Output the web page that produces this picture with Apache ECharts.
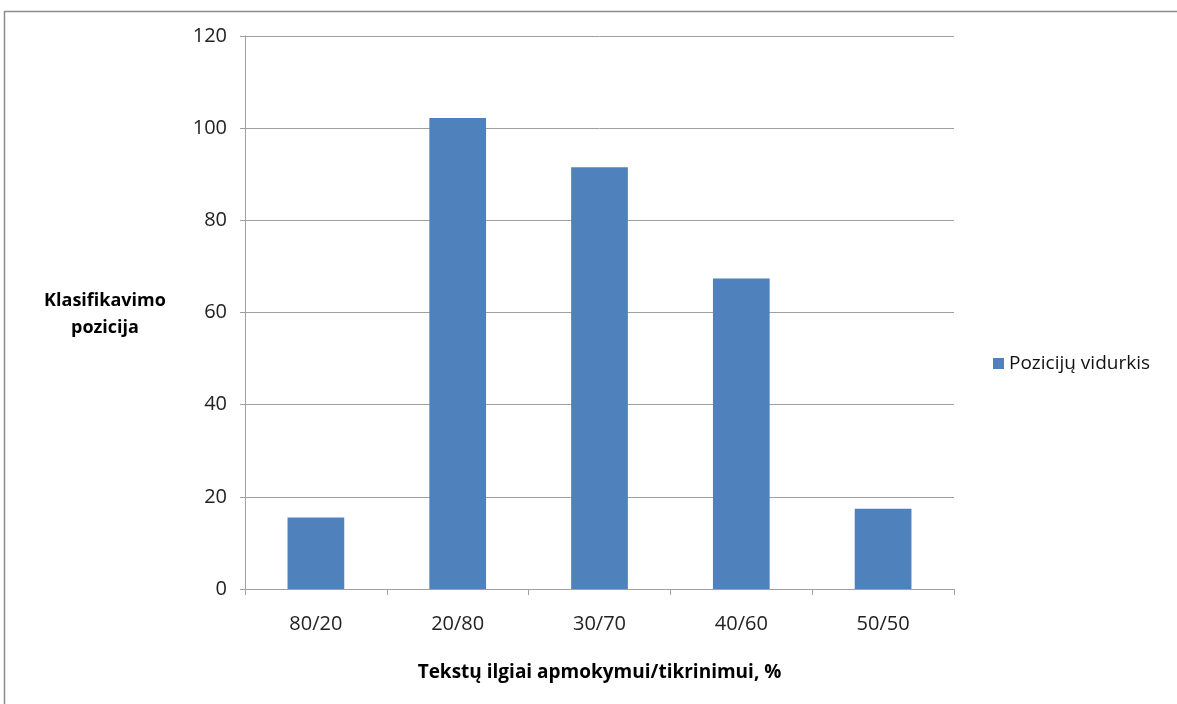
<!DOCTYPE html>
<html>
<head>
<meta charset="utf-8">
<script src="https://cdn.jsdelivr.net/npm/echarts@6/dist/echarts.min.js"></script>
<style>
  html, body { margin: 0; padding: 0; background: #fff; }
  #chart { width: 1177px; height: 704px; }
</style>
</head>
<body>
<div id="chart"></div>
<script>
const categories = ["80/20", "20/80", "30/70", "40/60", "50/50"];
const averages = [15.5, 102.2, 91.5, 67.4, 17.4];
const seriesName = "Pozicijų vidurkis";
const xTitle = "Tekstų ilgiai apmokymui/tikrinimui, %";
const yTitle = "Klasifikavimo\npozicija";

const font = "'Open Sans', 'DejaVu Sans', sans-serif";
const chart = echarts.init(document.getElementById("chart"));
chart.setOption({
  animation: false,
  textStyle: { fontFamily: font },
  grid: { left: 245, right: 223, top: 36, bottom: 115, containLabel: false },
  legend: {
    data: [seriesName],
    left: 988,
    top: 349,
    itemWidth: 11,
    itemHeight: 11,
    itemGap: 6,
    icon: "rect",
    textStyle: { fontFamily: font, fontSize: 19, color: "#111" }
  },
  graphic: [
    {
      type: "rect",
      shape: { x: 4.5, y: 11.5, width: 1300, height: 800 },
      style: { fill: "none", stroke: "#8c8c8c", lineWidth: 1.5 }
    },
    {
      type: "text",
      x: 105,
      y: 287,
      style: {
        text: yTitle,
        fontFamily: font, fontSize: 18, fontWeight: "bold",
        fill: "#000", align: "center", lineHeight: 27
      }
    }
  ],
  xAxis: {
    type: "category",
    data: categories,
    name: xTitle,
    nameLocation: "middle",
    nameGap: 74,
    nameTextStyle: { fontFamily: font, fontSize: 19, fontWeight: "bold", color: "#000" },
    axisLine: { lineStyle: { color: "#a0a0a0", width: 1 } },
    axisTick: { show: true, length: 6, alignWithLabel: false, lineStyle: { color: "#a0a0a0" } },
    axisLabel: { fontSize: 20, color: "#222", margin: 25 }
  },
  yAxis: {
    type: "value",
    min: 0,
    max: 120,
    interval: 20,
    axisLine: { show: true, lineStyle: { color: "#a0a0a0", width: 1 } },
    axisTick: { show: true, length: 5, lineStyle: { color: "#a0a0a0" } },
    axisLabel: { fontSize: 20, color: "#222", margin: 18 },
    splitLine: { lineStyle: { color: "#a0a0a0", width: 1 } }
  },
  series: [
    {
      name: seriesName,
      type: "bar",
      data: averages,
      barWidth: "40%",
      itemStyle: { color: "#4f81bd" }
    }
  ]
});
</script>
</body>
</html>
